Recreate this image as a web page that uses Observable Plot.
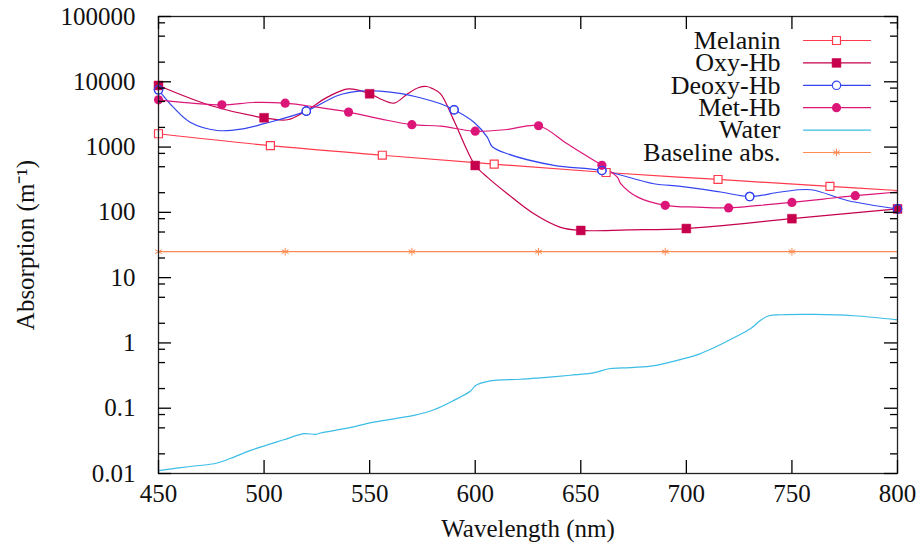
<!DOCTYPE html>
<html><head><meta charset="utf-8">
<script src="https://cdn.jsdelivr.net/npm/d3@7"></script>
<script src="https://cdn.jsdelivr.net/npm/@observablehq/plot@0.6"></script>
<style>body{margin:0;background:#fff;}</style></head><body><div id="wrap"></div>
<script>
// ---- data ----
const xTicks = [450, 500, 550, 600, 650, 700, 750, 800];
const yMajor = [0.01, 0.1, 1, 10, 100, 1000, 10000, 100000];
const yTickLabels = ["0.01", "0.1", "1", "10", "100", "1000", "10000", "100000"];
const yMinor = [0.02,0.05,0.08,0.2,0.5,0.8,2,5,8,20,50,80,200,500,800,2000,5000,8000,20000,50000,80000];

const melaninWl  = [450, 503, 556, 609, 662, 715, 768, 800];
const melaninVal = [1600, 1050, 750, 547, 408, 319, 250, 216];
const melaninMarks = [450, 503, 556, 609, 662, 715, 768];

const oxyWl  = [450, 475, 500, 511, 520, 530, 540, 550, 556, 561.5, 568, 573, 577, 580, 583.6, 589.9, 596.2, 600, 605.7, 615.2, 627.8, 640.4, 650, 672.5, 700, 750, 800];
const oxyVal = [8770, 4300, 2810, 2620, 3600, 5820, 7800, 6550, 5300, 4700, 6550, 8100, 8470, 7800, 6550, 2550, 887, 522, 346, 193, 95, 59, 52.8, 54, 56.5, 80, 113];
const oxyMarks = [450, 500, 550, 600, 650, 700, 750, 800];

const deoxyWl  = [450, 457, 465, 477.8, 490, 500, 520, 535, 545, 555, 565, 574, 583.6, 590, 599.4, 605.7, 608, 615.2, 637.3, 660, 684.6, 697.3, 716.2, 730, 744.8, 758.9, 776.2, 800];
const deoxyVal = [7540, 4080, 2400, 1795, 1900, 2280, 3550, 6170, 7180, 7200, 6600, 5690, 4600, 3720, 2400, 1420, 1020, 790, 525, 438, 274, 250, 205, 175, 205, 222, 152, 113];
const deoxyMarks = [450, 520, 590, 660, 730, 800];

const metWl  = [450, 480, 495, 510, 525, 540, 555, 570, 583.6, 600, 615, 630, 643.6, 656.3, 660, 667.3, 669, 677, 690, 705, 720, 735, 750, 765, 780, 800];
const metVal = [5300, 4440, 4820, 4700, 4080, 3430, 2710, 2200, 2090, 1750, 1860, 2120, 1120, 624, 525, 346, 274, 171, 128, 120, 117, 128, 142, 160, 180, 205];
const metMarks = [450, 480, 510, 540, 570, 600, 630, 660, 690, 720, 750, 780];

const waterWl  = [450, 465, 477.8, 486, 493.6, 509.4, 518.8, 524.4, 526.7, 539.4, 552, 571, 580.4, 589.9, 597.8, 600.2, 606.5, 621.5, 631, 645, 654.6, 658, 663.3, 670, 683.1, 698.8, 706.4, 713.1, 722.5, 730.5, 735, 739.1, 745, 760.4, 779.4, 800];
const waterVal = [0.0111, 0.0128, 0.0145, 0.018, 0.0226, 0.0329, 0.0407, 0.0398, 0.0417, 0.0495, 0.0612, 0.0776, 0.0948, 0.132, 0.183, 0.223, 0.26, 0.278, 0.292, 0.32, 0.341, 0.36, 0.402, 0.415, 0.44, 0.575, 0.68, 0.845, 1.2, 1.66, 2.2, 2.61, 2.7, 2.73, 2.61, 2.26];

const baseWl  = [450, 510, 570, 630, 690, 750, 800];
const baseVal = [25, 25, 25, 25, 25, 25, 25];
const baseMarks = [450, 510, 570, 630, 690, 750];

const names = ["Melanin", "Oxy-Hb", "Deoxy-Hb", "Met-Hb", "Water", "Baseline abs."];
const colors = ["#ff3a4c", "#c6004c", "#3344f0", "#dc1679", "#3cbde6", "#ff8a50"];

// ---- tables ----
const tbl = (wl, val) => wl.map((w, i) => ({w, v: val[i]}));
const pick = (t, marks) => t.filter(d => marks.includes(d.w));
const mel = tbl(melaninWl, melaninVal), oxy = tbl(oxyWl, oxyVal), deo = tbl(deoxyWl, deoxyVal),
      met = tbl(metWl, metVal), wat = tbl(waterWl, waterVal), base = tbl(baseWl, baseVal);

const W = 919, H = 546, mT = 16, mB = 73, mL = 158, mR = 22;
const xDomain = [450, 800], yDomain = [0.01, 100000];
const font = "'Liberation Serif', serif";
const labelMap = new Map(yMajor.map((d, i) => [d, yTickLabels[i]]));
const lw = 1.2;
const curve = "catmull-rom";
const tk = "#000";
// tick lengths converted from pixels into data units of each scale
const nmPerPx = (xDomain[1] - xDomain[0]) / (W - mL - mR);
const decPerPx = Math.log10(yDomain[1] / yDomain[0]) / (H - mT - mB);
const xTickRule = (len) => [
  Plot.ruleX(xTicks, {x: d => d, y1: () => yDomain[0], y2: () => yDomain[0] * 10 ** (len * decPerPx), stroke: tk, strokeWidth: 1.3}),
  Plot.ruleX(xTicks, {x: d => d, y1: () => yDomain[1] / 10 ** (len * decPerPx), y2: () => yDomain[1], stroke: tk, strokeWidth: 1.3})
];
const yTickRule = (data, len) => [
  Plot.ruleY(data, {y: d => d, x1: () => xDomain[0], x2: () => xDomain[0] + len * nmPerPx, stroke: tk, strokeWidth: 1.3}),
  Plot.ruleY(data, {y: d => d, x1: () => xDomain[1] - len * nmPerPx, x2: () => xDomain[1], stroke: tk, strokeWidth: 1.3})
];
const segShape = {draw(ctx, l) { ctx.moveTo(0, 0); ctx.lineTo(0, -l); }};

// legend symbols (same styles as the plotted markers)
const legendDot = [
  {symbol: "square", r: 4.5, stroke: colors[0], fill: "white", strokeWidth: 1.2},
  {symbol: "square", r: 5, fill: colors[1], stroke: colors[1], strokeWidth: 0.5},
  {symbol: "circle", r: 4.2, stroke: colors[2], fill: "white", strokeWidth: 1.2},
  {symbol: "circle", r: 4.6, fill: colors[3]},
  null,
  {symbol: "asterisk", r: 3.6, stroke: colors[5], strokeWidth: 1}
];
const legendMarks = names.flatMap((n, i) => {
  const dy = 24 + i * 22.4;
  const m = [
    Plot.text([n], {frameAnchor: "top-right", dx: -117, dy, text: d => d, textAnchor: "end", lineAnchor: "middle", fontSize: 26, fill: "#111"}),
    Plot.vector([n], {frameAnchor: "top-right", dx: -94, dy, length: 67, rotate: 90, anchor: "start", shape: segShape, stroke: colors[i], strokeWidth: lw})
  ];
  if (legendDot[i]) m.push(Plot.dot([n], {frameAnchor: "top-right", dx: -61, dy, ...legendDot[i]}));
  return m;
});

const chart = Plot.plot({
  width: W, height: H,
  marginTop: mT, marginBottom: mB, marginLeft: mL, marginRight: mR,
  style: {fontFamily: font, fontSize: "25px", background: "white", color: "#111"},
  x: {domain: xDomain},
  y: {type: "log", domain: yDomain},
  marks: [
    Plot.line(mel, {x: "w", y: "v", stroke: colors[0], strokeWidth: lw, curve}),
    Plot.line(oxy, {x: "w", y: "v", stroke: colors[1], strokeWidth: lw, curve}),
    Plot.line(deo, {x: "w", y: "v", stroke: colors[2], strokeWidth: lw, curve}),
    Plot.line(met, {x: "w", y: "v", stroke: colors[3], strokeWidth: lw, curve}),
    Plot.line(wat, {x: "w", y: "v", stroke: colors[4], strokeWidth: lw, curve}),
    Plot.line(base, {x: "w", y: "v", stroke: colors[5], strokeWidth: lw}),
    Plot.dot(pick(mel, melaninMarks), {x: "w", y: "v", ...legendDot[0]}),
    Plot.dot(pick(deo, deoxyMarks), {x: "w", y: "v", ...legendDot[2]}),
    Plot.dot(pick(oxy, oxyMarks), {x: "w", y: "v", ...legendDot[1]}),
    Plot.dot(pick(met, metMarks), {x: "w", y: "v", ...legendDot[3]}),
    Plot.dot(pick(deo, deoxyMarks), {x: "w", y: "v", ...legendDot[2], fill: "none"}),
    Plot.dot(pick(base, baseMarks), {x: "w", y: "v", ...legendDot[5]}),
    Plot.frame({stroke: "#222", strokeWidth: 1.3}),
    ...xTickRule(13),
    ...yTickRule(yMajor, 13),
    ...yTickRule(yMinor, 7),
    Plot.axisX({ticks: xTicks, tickSize: 0, tickPadding: 11, tickFormat: d => String(d), label: "Wavelength (nm)", labelAnchor: "center", labelOffset: 63, labelArrow: "none"}),
    Plot.axisY({ticks: yMajor, tickSize: 0, tickPadding: 23, tickFormat: d => labelMap.get(d), label: "Absorption (m⁻¹)", labelAnchor: "center", labelOffset: 142, labelArrow: "none"}),
    ...legendMarks
  ]
});
document.getElementById("wrap").appendChild(chart);
</script></body></html>
